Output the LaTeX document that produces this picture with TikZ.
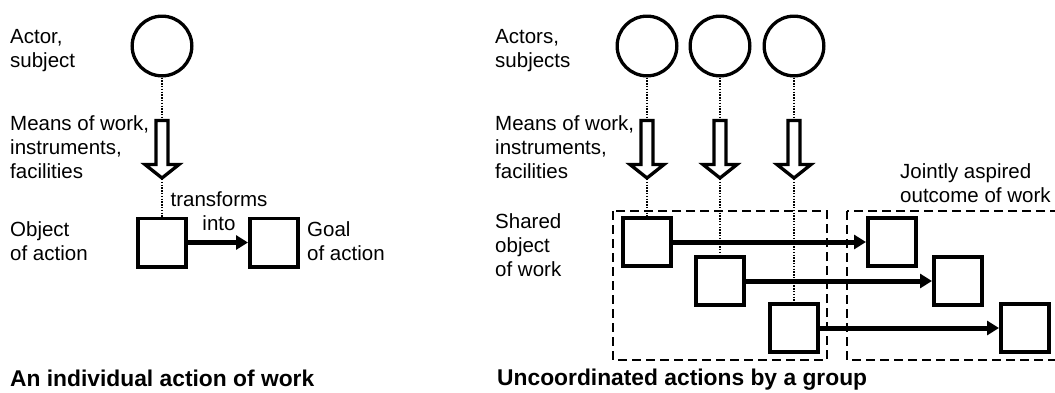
\documentclass[tikz,border=0pt]{standalone}
\usepackage{fontspec}
\setmainfont{Liberation Sans}
\usetikzlibrary{positioning}
\usetikzlibrary{arrows.meta}

% hollow arrow for the means of work: x position, name
\newcommand{\meansarrow}[2]{%
  \draw[hollow] (#1-6,120.5) -- (#1+6,120.5) -- (#1+6,164.5) -- (#1+17,164.5)
    -- (#1,178) -- (#1-17,164.5) -- (#1-6,164.5) -- cycle;
  \coordinate (#2-tail) at (#1,120.5);
  \coordinate (#2-tip) at (#1,179);
}

\begin{document}
\begin{tikzpicture}
    [x=1pt, y=-1pt,
     actor/.style = {draw, circle, line width=3.3pt, minimum size=59.7pt, inner sep=0pt},
     thing/.style = {draw, fill=white, rectangle, line width=3.8pt, minimum size=48.2pt, inner sep=0pt},
     txt/.style = {anchor=base west, align=left, inner sep=0pt, font=\fontsize{20.5}{24}\selectfont},
     heading/.style = {anchor=base west, inner sep=0pt, font=\fontsize{22.8}{26}\selectfont\bfseries},
     link/.style = {line width=1.4pt, dash pattern=on 1.4pt off 1.4pt},
     turn/.style = {-{Triangle[length=12pt,width=14pt]}, line width=5pt},
     hollow/.style = {line width=3.3pt, fill=white, miter limit=4},
     groupbox/.style = {line width=2.7pt, dash pattern=on 9pt off 5pt}]

    \useasboundingbox (0,0) rectangle (1055,392);

    % individual action (base = last line)
    \node[txt] (actor) at (10,67) {Actor,\\subject};
    \node[txt] (means) at (10,178.5) {Means of work,\\instruments,\\facilities};
    \node[txt] (object) at (10,260) {Object\\of action};
    \node[txt] (goal) at (307,260) {Goal\\of action};
    \node[anchor=base, align=center, inner sep=0pt, font=\fontsize{20.5}{24}\selectfont] (into) at (219,230) {transforms\\into};
    \node[heading] (single) at (10,386) {An individual action of work};

    \node[actor] (c0) at (162,46) {};
    \meansarrow{162}{m0}
    \node[thing] (o0) at (162,242.5) {};
    \node[thing] (g0) at (274,242.5) {};
    \draw[link] (c0) -- (m0-tail);
    \draw[link] (m0-tip) -- (o0);
    \draw[turn] (o0) -- (g0);

    % uncoordinated actions of a group
    \node[txt] (actors) at (495,67) {Actors,\\subjects};
    \node[txt] (means2) at (495,178.5) {Means of work,\\instruments,\\facilities};
    \node[txt] (shared) at (495,276) {Shared\\object\\of work};
    \node[txt] (joint) at (900,202) {Jointly aspired\\outcome of work};
    \node[heading] (group) at (497,385) {Uncoordinated actions by a group};

    \draw[groupbox] (613,211) rectangle (827,360);
    \draw[groupbox] (847,211) rectangle (1070,360);

    \foreach \cx/\ry/\gx [count=\i] in {647/242/892, 720/281/958, 794/328/1025} {
        \node[actor] (c\i) at (\cx,46) {};
        \meansarrow{\cx}{m\i}
        \draw[link] (c\i) -- (m\i-tail);
        \draw[link] (m\i-tip) -- (\cx,\ry-24);
    }
    \foreach \cx/\ry/\gx [count=\i] in {647/242/892, 720/281/958, 794/328/1025} {
        \node[thing] (o\i) at (\cx,\ry) {};
        \node[thing] (g\i) at (\gx,\ry) {};
        \draw[turn] (o\i) -- (g\i);
    }
\end{tikzpicture}
\end{document}
